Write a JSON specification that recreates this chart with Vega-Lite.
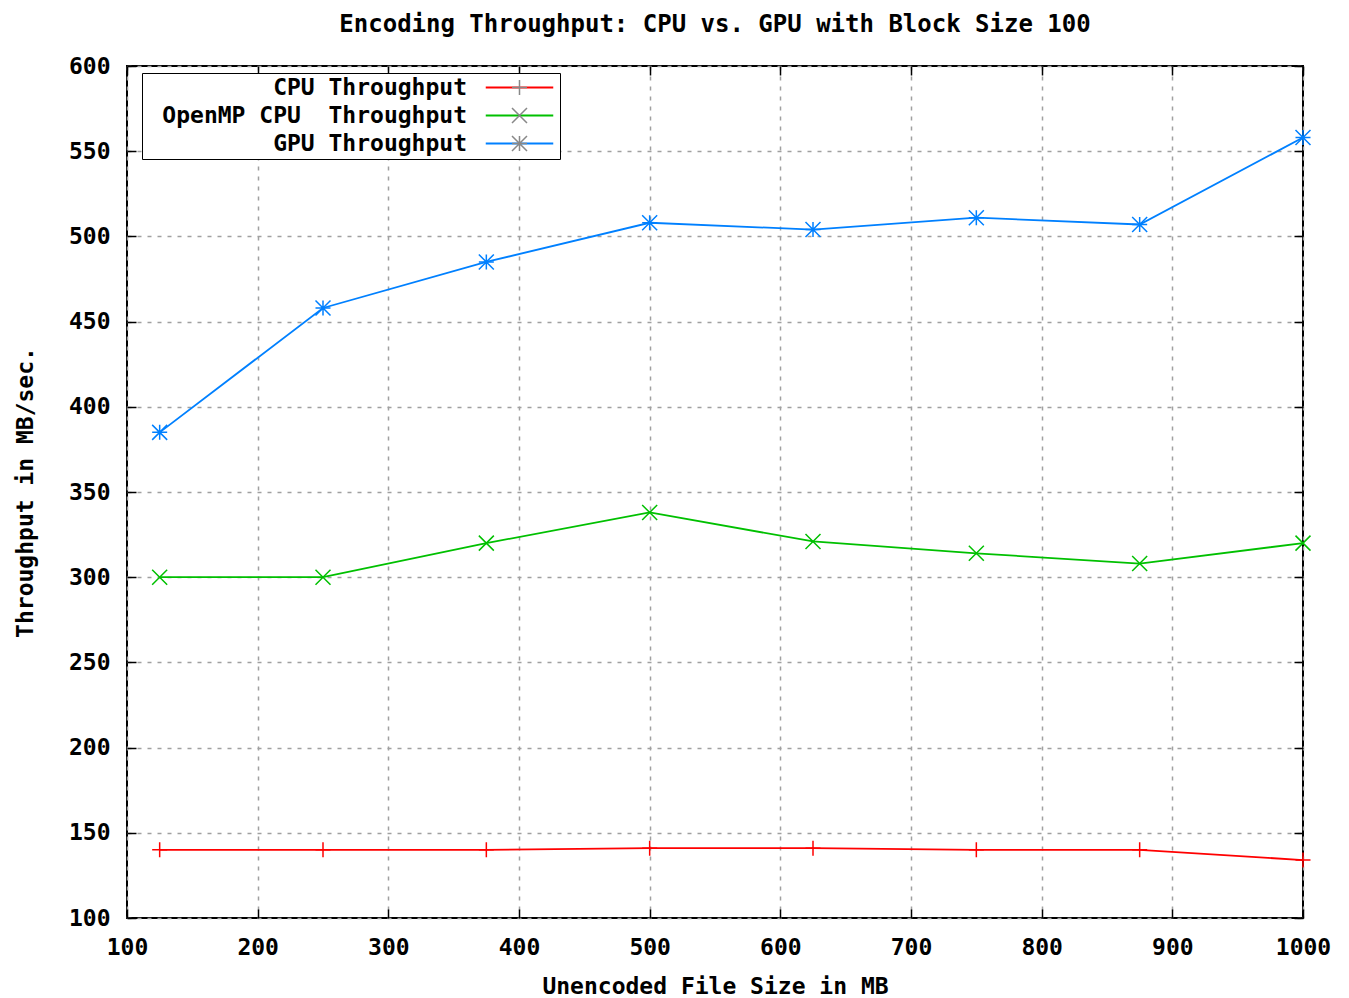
{
  "$schema": "https://vega.github.io/schema/vega-lite/v6.json",
  "autosize": "none",
  "width": 1176,
  "height": 852,
  "padding": {"left": 127, "top": 66, "right": 46, "bottom": 80},
  "background": "white",
  "title": {
    "text": "Encoding Throughput: CPU vs. GPU with Block Size 100",
    "font": "DejaVu Sans Mono",
    "fontSize": 24,
    "fontWeight": "bold",
    "color": "black",
    "offset": 18,
    "anchor": "middle"
  },
  "config": {
    "view": {"stroke": "black", "strokeWidth": 2},
    "axis": {
      "labelFont": "DejaVu Sans Mono",
      "labelFontSize": 23,
      "labelFontWeight": "bold",
      "labelColor": "black",
      "titleFont": "DejaVu Sans Mono",
      "titleFontSize": 23,
      "titleFontWeight": "bold",
      "titleColor": "black",
      "domain": false,
      "tickColor": "black",
      "tickWidth": 1.5,
      "gridColor": "#a0a0a0",
      "gridWidth": 1.5,
      "gridDash": [4, 6],
      "gridOpacity": 1
    },
    "legend": {
      "labelFont": "DejaVu Sans Mono",
      "labelFontSize": 23,
      "labelFontWeight": "bold",
      "labelColor": "black"
    }
  },
  "data": {
    "values": [
      {"size": 125, "series": "CPU Throughput", "throughput": 140},
      {"size": 250, "series": "CPU Throughput", "throughput": 140},
      {"size": 375, "series": "CPU Throughput", "throughput": 140},
      {"size": 500, "series": "CPU Throughput", "throughput": 141},
      {"size": 625, "series": "CPU Throughput", "throughput": 141},
      {"size": 750, "series": "CPU Throughput", "throughput": 140},
      {"size": 875, "series": "CPU Throughput", "throughput": 140},
      {"size": 1000, "series": "CPU Throughput", "throughput": 134},
      {"size": 125, "series": "OpenMP CPU\u00a0 Throughput", "throughput": 300},
      {"size": 250, "series": "OpenMP CPU\u00a0 Throughput", "throughput": 300},
      {"size": 375, "series": "OpenMP CPU\u00a0 Throughput", "throughput": 320},
      {"size": 500, "series": "OpenMP CPU\u00a0 Throughput", "throughput": 338},
      {"size": 625, "series": "OpenMP CPU\u00a0 Throughput", "throughput": 321},
      {"size": 750, "series": "OpenMP CPU\u00a0 Throughput", "throughput": 314},
      {"size": 875, "series": "OpenMP CPU\u00a0 Throughput", "throughput": 308},
      {"size": 1000, "series": "OpenMP CPU\u00a0 Throughput", "throughput": 320},
      {"size": 125, "series": "GPU Throughput", "throughput": 385},
      {"size": 250, "series": "GPU Throughput", "throughput": 458},
      {"size": 375, "series": "GPU Throughput", "throughput": 485},
      {"size": 500, "series": "GPU Throughput", "throughput": 508},
      {"size": 625, "series": "GPU Throughput", "throughput": 504},
      {"size": 750, "series": "GPU Throughput", "throughput": 511},
      {"size": 875, "series": "GPU Throughput", "throughput": 507},
      {"size": 1000, "series": "GPU Throughput", "throughput": 558}
    ]
  },
  "resolve": {"axis": {"x": "independent", "y": "independent"}},
  "layer": [
    {
      "mark": {"type": "line", "strokeWidth": 1.8},
      "encoding": {
        "x": {
          "field": "size", "type": "quantitative",
          "scale": {"domain": [100, 1000], "nice": false, "zero": false},
          "axis": {"orient": "top", "labels": false, "title": null, "grid": false, "tickSize": -9, "values": [100,200,300,400,500,600,700,800,900,1000]}
        },
        "y": {
          "field": "throughput", "type": "quantitative",
          "scale": {"domain": [100, 600], "nice": false, "zero": false},
          "axis": {"orient": "right", "labels": false, "title": null, "grid": false, "tickSize": -9, "values": [100,150,200,250,300,350,400,450,500,550,600]}
        },
        "color": {
          "field": "series", "type": "nominal",
          "scale": {"domain": ["CPU Throughput", "OpenMP CPU\u00a0 Throughput", "GPU Throughput"], "range": ["#ff0000", "#00c000", "#0080ff"]},
          "legend": {
            "title": null,
            "orient": "none",
            "legendX": 15,
            "legendY": 7,
            "padding": 3,
            "fillColor": "white",
            "strokeColor": "black",
            "labelAlign": "right",
            "labelLimit": 0,
            "labelOffset": -64,
            "symbolOffset": 363,
            "symbolSize": 225,
            "symbolType": "M-4.5,0L4.5,0",
            "symbolStrokeWidth": 1.8,
            "rowPadding": 4
          }
        }
      }
    },
    {
      "mark": {"type": "point", "filled": false, "size": 225, "strokeWidth": 1.5, "opacity": 1},
      "encoding": {
        "x": {
          "field": "size", "type": "quantitative",
          "scale": {"domain": [100, 1000], "nice": false, "zero": false},
          "axis": {"orient": "bottom", "title": "Unencoded File Size in MB", "format": "d", "grid": true, "tickSize": -9, "labelPadding": 27, "titlePadding": 16, "labelFlush": false, "labelOverlap": false, "values": [100,200,300,400,500,600,700,800,900,1000]}
        },
        "y": {
          "field": "throughput", "type": "quantitative",
          "scale": {"domain": [100, 600], "nice": false, "zero": false},
          "axis": {"orient": "left", "title": "Throughput in MB/sec.", "grid": true, "tickSize": -9, "labelPadding": 26, "titlePadding": 31, "labelFlush": false, "labelOverlap": false, "values": [100,150,200,250,300,350,400,450,500,550,600]}
        },
        "stroke": {
          "field": "series", "type": "nominal",
          "sort": ["CPU Throughput", "OpenMP CPU\u00a0 Throughput", "GPU Throughput"],
          "scale": {"range": ["#ff0000", "#00c000", "#0080ff"]},
          "legend": {
            "title": null,
            "orient": "none",
            "legendX": 15,
            "legendY": 7,
            "padding": 3,
            "strokeColor": "transparent",
            "labelAlign": "right",
            "labelLimit": 0,
            "labelOffset": -64,
            "labelColor": "transparent",
            "symbolOffset": 363,
            "symbolSize": 225,
            "symbolType": "M0,0",
            "symbolStrokeWidth": 1.5,
            "rowPadding": 4
          }
        },
        "shape": {
          "field": "series", "type": "nominal",
          "sort": ["CPU Throughput", "OpenMP CPU\u00a0 Throughput", "GPU Throughput"],
          "scale": {"range": ["M-1,0L1,0M0,-1L0,1", "M-1,-1L1,1M-1,1L1,-1", "M-1,0L1,0M0,-1L0,1M-1,-1L1,1M-1,1L1,-1"]},
          "legend": {
            "title": null,
            "orient": "none",
            "legendX": 15,
            "legendY": 7,
            "padding": 3,
            "strokeColor": "transparent",
            "labelAlign": "right",
            "labelLimit": 0,
            "labelOffset": -64,
            "labelColor": "transparent",
            "symbolOffset": 363,
            "symbolSize": 225,
            "symbolStrokeWidth": 1.5,
            "rowPadding": 4
          }
        }
      }
    }
  ]
}
